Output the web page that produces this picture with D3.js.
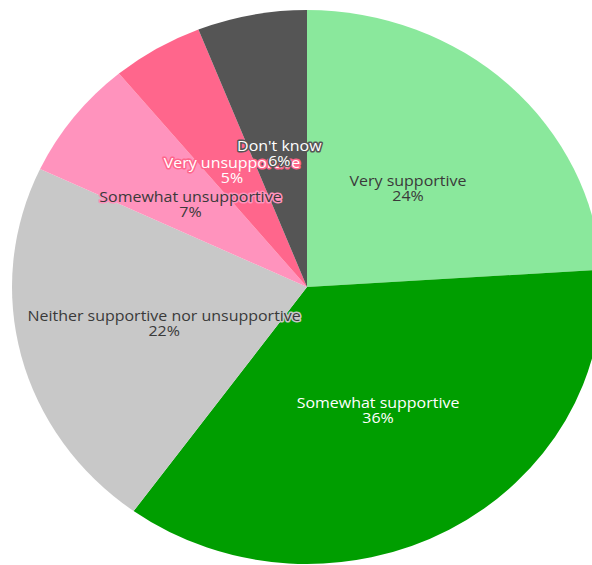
<!DOCTYPE html>
<html>
<head>
<meta charset="utf-8">
<script src="https://cdn.jsdelivr.net/npm/d3@7"></script>
<style>
  body { margin: 0; background: #fff; }
  text { font-family: "Open Sans", sans-serif; font-size: 15px; }
</style>
</head>
<body>
<div id="pie"></div>
<script>
const categories = ["Very supportive", "Somewhat supportive", "Neither supportive nor unsupportive",
    "Somewhat unsupportive", "Very unsupportive", "Don't know"];
const values = [24, 36, 22, 7, 5, 6];
const sliceColors = ["#8ae89c", "#009e00", "#c8c8c8", "#ff93bd", "#ff668c", "#555555"];
const labelColors = ["#3a3a3a", "#ffffff", "#3a3a3a", "#3a3a3a", "#ffffff", "#ffffff"];

const svgWidth = 592;
const svgHeight = 565;
const cx = 307, cy = 287;
const ry = 277, rx = 295;   // the whole chart is stretched a bit sideways
const stretch = rx / ry;

let svg = d3.select("#pie").append("svg").attr("width", svgWidth).attr("height", svgHeight);

const data = categories.map((c, i) => ({ name: c, value: values[i], color: sliceColors[i], ink: labelColors[i] }));

const pie = d3.pie().value(d => d.value).sort(null);
const arc = d3.arc().innerRadius(0).outerRadius(ry);
const slices = pie(data);

svg.append("g")
    .attr("transform", `translate(${cx},${cy}) scale(${stretch},1)`)
    .selectAll("path")
    .data(slices)
    .enter()
    .append("path")
        .attr("d", arc)
        .style("fill", d => d.data.color);

let labels = svg.append("g").selectAll("text")
    .data(slices)
    .enter()
    .append("text")
        .attr("text-anchor", "middle")
        .attr("transform", d => {
            let [x, y] = arc.centroid(d);
            return `translate(${cx + x * stretch},${cy + y}) scale(${stretch},1)`;
        })
        .style("fill", d => d.data.ink)
        .style("stroke", d => d.data.color)
        .style("stroke-width", 3)
        .style("stroke-linejoin", "round")
        .style("paint-order", "stroke");

labels.append("tspan").attr("x", 0).attr("y", 0).text(d => d.data.name);
labels.append("tspan").attr("x", 0).attr("y", 15).text(d => d.data.value + "%");
</script>
</body>
</html>
